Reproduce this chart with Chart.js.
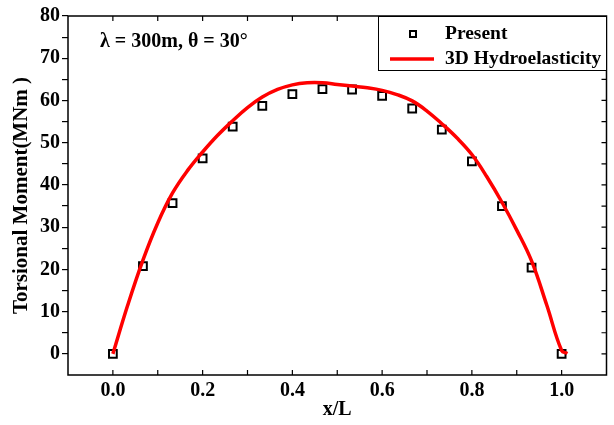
<!DOCTYPE html>
<html>
<head>
<meta charset="utf-8">
<script src="https://cdn.jsdelivr.net/npm/chart.js@4.4.0/dist/chart.umd.min.js"></script>
<style>
  html, body { margin: 0; padding: 0; background: #fff; }
  #wrap { width: 614px; height: 425px; }
</style>
</head>
<body>
<div id="wrap"><canvas id="myChart" width="614" height="425"></canvas></div>
<script>
// valeurs
var presentX = [0, 0.067, 0.133, 0.2, 0.267, 0.333, 0.4, 0.467, 0.533, 0.6, 0.667, 0.733, 0.8, 0.867, 0.933, 1.0];
var presentY = [0, 20.8, 35.7, 46.3, 53.8, 58.7, 61.5, 62.7, 62.6, 61.1, 58.1, 53.1, 45.6, 35.0, 20.4, 0];

var hydroX = [0, 0.033, 0.067, 0.1, 0.133, 0.167, 0.2, 0.233, 0.267, 0.3, 0.333, 0.367, 0.4, 0.433, 0.467, 0.5,
              0.533, 0.567, 0.6, 0.633, 0.667, 0.7, 0.733, 0.767, 0.8, 0.833, 0.867, 0.9, 0.933, 0.967, 1.0, 1.013];
var hydroY = [0, 11.5, 22.2, 31.0, 38.1, 43.5, 47.8, 51.7, 55.2, 58.3, 60.8, 62.6, 63.7, 64.2, 64.2, 63.8,
              63.4, 63.0, 62.4, 61.4, 59.9, 57.5, 54.5, 51.1, 47.2, 42.0, 35.9, 29.3, 22.0, 11.5, 0.8, 0.1];

var xTickLabels = ['0.0', '0.2', '0.4', '0.6', '0.8', '1.0'];
var yTickLabels = ['0', '10', '20', '30', '40', '50', '60', '70', '80'];

var seriesNames = ['Present', '3D Hydroelasticity'];
var noteText = 'λ = 300m, θ = 30°';

var FONT = '"Liberation Serif", "Times New Roman", serif';

function toPoints(xs, ys) {
    return xs.map(function(x, i) { return { x: x, y: ys[i] }; });
}

// cadre, graduations internes, légende et annotation
var framePlugin = {
    id: 'frame',
    afterDraw: function(chart) {
        var ctx = chart.ctx;
        var a = chart.chartArea;
        var xs = chart.scales.x, ys = chart.scales.y;
        ctx.save();
        ctx.strokeStyle = '#000';
        ctx.lineWidth = 1.5;
        ctx.strokeRect(a.left, a.top, a.right - a.left, a.bottom - a.top);

        ctx.lineWidth = 1.2;
        ctx.beginPath();
        for (var i = 0; i <= 10; i++) {
            var px = xs.getPixelForValue(i / 10);
            ctx.moveTo(px, a.bottom); ctx.lineTo(px, a.bottom - 5);
            ctx.moveTo(px, a.top); ctx.lineTo(px, a.top + 5);
        }
        for (var v = 0; v <= 75; v += 5) {
            var py = ys.getPixelForValue(v);
            ctx.moveTo(a.right, py); ctx.lineTo(a.right - 5, py);
        }
        ctx.stroke();

        // légende
        var lx = 378, ly = 16, lw = 228, lh = 54;
        ctx.fillStyle = '#fff';
        ctx.fillRect(lx, ly, lw, lh);
        ctx.lineWidth = 1;
        ctx.strokeRect(lx + 0.5, ly + 0.5, lw, lh);

        ctx.strokeStyle = '#000';
        ctx.lineWidth = 2;
        ctx.strokeRect(410, 31, 6, 6);

        ctx.strokeStyle = '#ff0000';
        ctx.lineWidth = 3.5;
        ctx.beginPath();
        ctx.moveTo(390, 59); ctx.lineTo(434, 59);
        ctx.stroke();

        ctx.fillStyle = '#000';
        ctx.font = 'bold 19.5px ' + FONT;
        ctx.textBaseline = 'middle';
        ctx.textAlign = 'left';
        ctx.fillText(seriesNames[0], 445, 34);
        ctx.fillText(seriesNames[1], 445, 59);

        ctx.font = 'bold 20px ' + FONT;
        ctx.fillText(noteText, 100, 42);
        ctx.restore();
    }
};

var ctx = document.getElementById('myChart').getContext('2d');
var myChart = new Chart(ctx, {
    type: 'scatter',
    data: {
        datasets: [{
            label: seriesNames[1],
            type: 'line',
            data: toPoints(hydroX, hydroY),
            borderColor: '#ff0000',
            borderWidth: 3.5,
            pointRadius: 0,
            fill: false,
            tension: 0.4
        }, {
            label: seriesNames[0],
            data: toPoints(presentX, presentY),
            pointStyle: 'rect',
            pointRadius: 5.5,
            pointBorderWidth: 2,
            pointBorderColor: '#000',
            pointBackgroundColor: '#fff'
        }]
    },
    options: {
        responsive: false,
        animation: false,
        layout: { padding: { top: 16, right: 6, left: 0, bottom: 0 } },
        plugins: {
            legend: { display: false },
            tooltip: { enabled: false }
        },
        scales: {
            x: {
                type: 'linear',
                min: -0.1,
                max: 1.1,
                afterFit: function(s) { s.height = 50; },
                afterBuildTicks: function(s) {
                    s.ticks = xTickLabels.map(function(t) { return { value: parseFloat(t) }; });
                },
                ticks: {
                    autoSkip: false,
                    maxRotation: 0,
                    padding: 4,
                    color: '#000',
                    font: { family: FONT, size: 20, weight: 'bold' },
                    callback: function(v, i) { return xTickLabels[i]; }
                },
                grid: { display: false, drawTicks: false },
                border: { display: false },
                title: {
                    display: true,
                    text: 'x/L',
                    color: '#000',
                    padding: { top: 0, bottom: 3 },
                    font: { family: FONT, size: 20, weight: 'bold' }
                }
            },
            y: {
                min: -5,
                max: 80,
                afterFit: function(s) { s.width = 68; },
                afterBuildTicks: function(s) {
                    var t = [];
                    for (var v = 0; v <= 80; v += 5) t.push({ value: v });
                    s.ticks = t;
                },
                ticks: {
                    autoSkip: false,
                    padding: 2,
                    color: '#000',
                    font: { family: FONT, size: 20, weight: 'bold' },
                    callback: function(v) { return v % 10 === 0 ? yTickLabels[v / 10] : ''; }
                },
                grid: {
                    drawOnChartArea: false,
                    drawTicks: true,
                    tickLength: 6,
                    color: '#000',
                    lineWidth: 1.2
                },
                border: { display: false },
                title: {
                    display: true,
                    text: 'Torsional Moment(MNm )',
                    color: '#000',
                    padding: { top: 9, bottom: 0 },
                    font: { family: FONT, size: 21, weight: 'bold' }
                }
            }
        }
    },
    plugins: [framePlugin]
});
</script>
</body>
</html>
